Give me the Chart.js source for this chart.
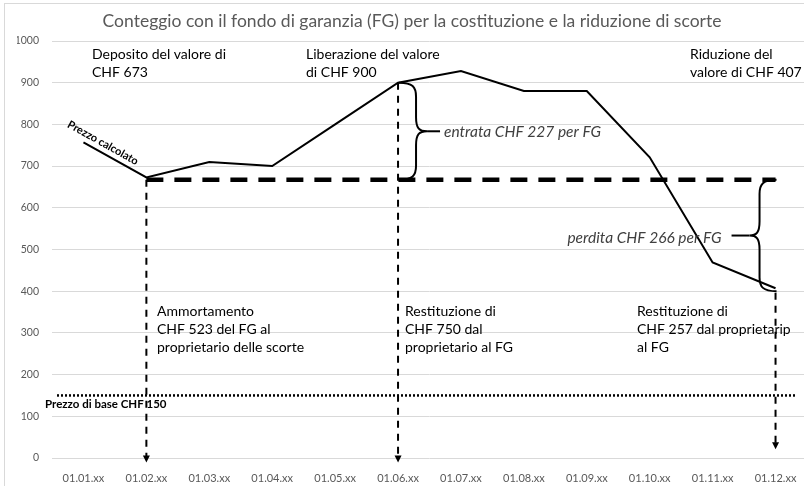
<!DOCTYPE html>
<html lang="it">
<head>
<meta charset="UTF-8">
<title>Conteggio con il fondo di garanzia</title>
<script src="https://cdn.jsdelivr.net/npm/chart.js"></script>
<style>
  body { margin: 0; background: #fff; overflow: hidden; }
  .chart-box { width: 824px; height: 486px; }
</style>
</head>
<body>
<div class="chart-box"><canvas id="fg-chart" width="824" height="486"></canvas></div>
<script>
// --- data ---
const titolo = 'Conteggio con il fondo di garanzia (FG) per la costituzione e la riduzione di scorte';
const months = ['01.01.xx', '01.02.xx', '01.03.xx', '01.04.xx', '01.05.xx', '01.06.xx',
                '01.07.xx', '01.08.xx', '01.09.xx', '01.10.xx', '01.11.xx', '01.12.xx'];
const prezzoCalcolato = [757, 673, 710, 700, 800, 900, 928, 880, 880, 721, 469, 407];
const livelloDeposito = [null, 667, 667, 667, 667, 667, 667, 667, 667, 667, 667, 667];
const prezzoBase = 150;

// dashed arrows: month index, start value, end value
const frecceMese = [1, 5, 11];
const frecceDa = [667, 900, 396];
const frecceA = [-11, -11, 21];

// braces: month index, from value, to value
const graffeMese = [5, 11];
const graffeDa = [900, 667];
const graffeA = [667, 400];

const noteAlto = [
  ['Deposito del valore di', 'CHF 673'],
  ['Liberazione del valore', 'di CHF 900'],
  ['Riduzione del', 'valore di CHF 407']
];
const noteBasso = [
  ['Ammortamento', 'CHF 523 del FG al', 'proprietario delle scorte'],
  ['Restituzione di', 'CHF 750 dal', 'proprietario al FG'],
  ['Restituzione di', 'CHF 257 dal proprietarip', 'al FG']
];
const notaEntrata = 'entrata CHF 227 per FG';
const notaPerdita = 'perdita CHF 266 per FG';
const notaBase = 'Prezzo di base CHF 150';
const notaLinea = 'Prezzo calcolato';

const FONT = 'Lato, "Open Sans", sans-serif';

// draw a curly brace; dir = 1 tip to the right, -1 tip to the left
function drawBrace(ctx, x, yTop, yBot, dir, arm, tip) {
  const mid = (yTop + yBot) / 2;
  const r = 14;
  ctx.beginPath();
  ctx.moveTo(x - dir * arm, yTop);
  ctx.bezierCurveTo(x - dir * arm * 0.2, yTop, x, yTop + r * 0.3, x, yTop + r);
  ctx.lineTo(x, mid - r);
  ctx.bezierCurveTo(x, mid - 3, x + dir * 3, mid, x + dir * tip, mid);
  ctx.bezierCurveTo(x + dir * 3, mid, x, mid + 3, x, mid + r);
  ctx.lineTo(x, yBot - r);
  ctx.bezierCurveTo(x, yBot - r * 0.3, x - dir * arm * 0.2, yBot, x - dir * arm, yBot);
  ctx.stroke();
}

const notePlugin = {
  id: 'note',
  beforeDraw(chart) {
    const ctx = chart.ctx;
    ctx.save();
    ctx.strokeStyle = '#d9d9d9';
    ctx.lineWidth = 1;
    ctx.strokeRect(4.5, 3.5, 900, 600);
    ctx.restore();
  },
  afterDatasetsDraw(chart) {
    const ctx = chart.ctx;
    const xs = chart.scales.x;
    const ys = chart.scales.y;
    const area = chart.chartArea;
    ctx.save();
    ctx.strokeStyle = '#000';
    ctx.fillStyle = '#000';

    // base price dotted line
    const yb = ys.getPixelForValue(prezzoBase);
    ctx.lineWidth = 2.5;
    ctx.setLineDash([2, 2]);
    ctx.beginPath();
    ctx.moveTo(area.left + 5, yb);
    ctx.lineTo(area.right - 10, yb);
    ctx.stroke();

    // dashed arrows
    ctx.lineWidth = 2;
    ctx.setLineDash([7, 6]);
    frecceMese.forEach((m, i) => {
      const x = xs.getPixelForValue(m);
      const y0 = ys.getPixelForValue(frecceDa[i]);
      const y1 = ys.getPixelForValue(frecceA[i]);
      ctx.beginPath();
      ctx.moveTo(x, y0);
      ctx.lineTo(x, y1 - 6);
      ctx.stroke();
      ctx.beginPath();
      ctx.moveTo(x - 3.5, y1 - 7);
      ctx.lineTo(x + 3.5, y1 - 7);
      ctx.lineTo(x, y1);
      ctx.closePath();
      ctx.fill();
    });
    ctx.setLineDash([]);

    // braces
    ctx.lineWidth = 2;
    const g1x = xs.getPixelForValue(graffeMese[0]) + 18;
    const g1t = ys.getPixelForValue(graffeDa[0]);
    const g1b = ys.getPixelForValue(graffeA[0]);
    drawBrace(ctx, g1x, g1t, g1b, 1, 17, 11);
    ctx.beginPath();
    ctx.moveTo(g1x + 11, (g1t + g1b) / 2);
    ctx.lineTo(g1x + 24, (g1t + g1b) / 2);
    ctx.stroke();

    const g2x = xs.getPixelForValue(graffeMese[1]) - 16;
    const g2t = ys.getPixelForValue(graffeDa[1]);
    const g2b = ys.getPixelForValue(graffeA[1]);
    drawBrace(ctx, g2x, g2t, g2b, -1, 17, 10);
    ctx.beginPath();
    ctx.moveTo(g2x - 10, (g2t + g2b) / 2);
    ctx.lineTo(g2x - 28, (g2t + g2b) / 2);
    ctx.stroke();

    // italic brace notes
    ctx.textBaseline = 'middle';
    ctx.fillStyle = '#404040';
    ctx.font = 'italic 15.5px ' + FONT;
    ctx.textAlign = 'left';
    ctx.fillText(notaEntrata, g1x + 28, (g1t + g1b) / 2 + 1);
    ctx.textAlign = 'right';
    ctx.fillText(notaPerdita, g2x - 38, (g2t + g2b) / 2 + 2);

    // top and bottom text blocks
    ctx.fillStyle = '#000';
    ctx.textAlign = 'left';
    ctx.font = '14px ' + FONT;
    const altoX = [92, 306, 690];
    noteAlto.forEach((righe, i) => {
      righe.forEach((t, j) => ctx.fillText(t, altoX[i], 54 + j * 18));
    });
    const bassoX = [157, 405, 637];
    noteBasso.forEach((righe, i) => {
      righe.forEach((t, j) => ctx.fillText(t, bassoX[i], 311 + j * 18));
    });

    // base price label
    ctx.font = 'bold 11.5px ' + FONT;
    ctx.fillText(notaBase, 45, yb + 9);

    // rotated label on the first segment
    const p0x = xs.getPixelForValue(0), p0y = ys.getPixelForValue(prezzoCalcolato[0]);
    const p1x = xs.getPixelForValue(1), p1y = ys.getPixelForValue(prezzoCalcolato[1]);
    const ang = Math.atan2(p1y - p0y, p1x - p0x);
    ctx.translate((p0x + p1x) / 2 - 12, (p0y + p1y) / 2 - 17);
    ctx.rotate(ang);
    ctx.textAlign = 'center';
    ctx.font = 'bold 11px ' + FONT;
    ctx.fillText(notaLinea, 0, 0);
    ctx.restore();
  }
};

new Chart(document.getElementById('fg-chart'), {
  type: 'line',
  data: {
    labels: months,
    datasets: [
      {
        label: 'Prezzo calcolato',
        data: prezzoCalcolato,
        borderColor: '#000',
        borderWidth: 2,
        pointRadius: 0,
        tension: 0
      },
      {
        label: 'Deposito',
        data: livelloDeposito,
        borderColor: '#000',
        borderWidth: 4.5,
        borderDash: [17, 11],
        pointRadius: 0
      }
    ]
  },
  options: {
    responsive: false,
    animation: false,
    devicePixelRatio: 1,
    layout: { padding: { left: 17, right: 17, top: 0, bottom: 0 } },
    plugins: {
      legend: { display: false },
      tooltip: { enabled: false },
      title: {
        display: true,
        text: titolo,
        color: '#595959',
        font: { family: FONT, size: 17.5, weight: 'normal' },
        padding: { top: 11, bottom: 9 }
      }
    },
    scales: {
      x: {
        offset: true,
        grid: { display: false },
        border: { display: false },
        ticks: { color: '#595959', font: { family: FONT, size: 11 }, padding: 6, maxRotation: 0, autoSkip: false },
        afterFit: s => { s.height = 28; }
      },
      y: {
        min: 0,
        max: 1000,
        grid: { color: '#d9d9d9', drawTicks: false },
        border: { display: false },
        ticks: {
          stepSize: 100,
          color: '#595959',
          font: { family: FONT, size: 10.5 },
          padding: 13,
          callback: v => String(v)
        },
        afterFit: s => { s.width = 35; }
      }
    }
  },
  plugins: [notePlugin]
});
</script>
</body>
</html>
